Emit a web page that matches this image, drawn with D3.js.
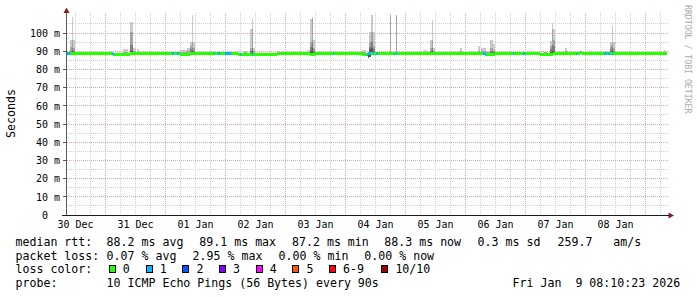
<!DOCTYPE html>
<html>
<head>
<meta charset="utf-8">
<script src="https://cdn.jsdelivr.net/npm/d3@7"></script>
<style>
	html, body { margin: 0; padding: 0; background: #fff; }
	svg { display: block; font-family: "DejaVu Sans Mono", monospace; }
	text { white-space: pre; }
</style>
</head>
<body>
<svg id="chart" width="697" height="297"></svg>
<script>
// graph window (UTC)
var windowStart = '2025-12-29 20:30';
var windowEnd = '2026-01-08 20:30';

// median rtt in ms: [from, to, value]
var medianRtt = [
	['2025-12-29 20:30', '2025-12-30 14:54', 88.5],
	['2025-12-30 14:54', '2025-12-30 21:42', 88.0],
	['2025-12-30 21:42', '2025-12-31 17:42', 88.5],
	['2025-12-31 17:42', '2025-12-31 21:42', 88.0],
	['2025-12-31 21:42', '2026-01-01 16:54', 88.5],
	['2026-01-01 16:54', '2026-01-02 08:30', 88.0],
	['2026-01-02 08:30', '2026-01-02 21:36', 88.5],
	['2026-01-02 21:36', '2026-01-02 23:48', 88.0],
	['2026-01-02 23:48', '2026-01-03 18:30', 88.5],
	['2026-01-03 18:30', '2026-01-03 20:54', 88.0],
	['2026-01-03 20:54', '2026-01-05 19:42', 88.5],
	['2026-01-05 19:42', '2026-01-05 23:42', 88.0],
	['2026-01-05 23:42', '2026-01-06 17:42', 88.5],
	['2026-01-06 17:42', '2026-01-06 22:54', 88.0],
	['2026-01-06 22:54', '2026-01-07 09:42', 88.5],
	['2026-01-07 09:42', '2026-01-07 10:30', 89.2],
	['2026-01-07 10:30', '2026-01-08 20:30', 88.5]
];

// pings lost out of 10: [from, to, lost]; no loss outside these runs
var lossRuns = [
	['2025-12-29 20:30', '2025-12-29 21:42', 1],
	['2025-12-30 14:30', '2025-12-30 15:24', 1],
	['2025-12-31 14:30', '2025-12-31 15:24', 1],
	['2025-12-31 16:30', '2025-12-31 17:24', 1],
	['2026-01-01 07:12', '2026-01-01 07:48', 1],
	['2026-01-01 08:54', '2026-01-01 09:48', 1],
	['2026-01-01 11:48', '2026-01-01 14:06', 1],
	['2026-01-01 17:42', '2026-01-01 18:06', 1],
	['2026-01-01 22:24', '2026-01-01 23:00', 1],
	['2026-01-03 06:54', '2026-01-03 07:18', 1],
	['2026-01-03 20:30', '2026-01-03 21:54', 1],
	['2026-01-03 22:42', '2026-01-03 23:18', 1],
	['2026-01-03 23:54', '2026-01-04 00:54', 1],
	['2026-01-04 07:06', '2026-01-04 07:30', 1],
	['2026-01-04 08:06', '2026-01-04 08:30', 1],
	['2026-01-05 18:54', '2026-01-05 19:54', 1],
	['2026-01-06 06:54', '2026-01-06 07:18', 1],
	['2026-01-06 10:54', '2026-01-06 11:48', 1],
	['2026-01-07 07:54', '2026-01-07 08:30', 1],
	['2026-01-07 19:18', '2026-01-07 20:18', 1],
	['2026-01-07 20:48', '2026-01-07 21:36', 1],
	['2026-01-07 22:24', '2026-01-07 22:48', 1]
];

// smoke: [from, to, lowest ping, top of band 1..4 (outer to inner)] in ms
var smoke = [
	['2025-12-29 21:42', '2025-12-29 22:30', 87.8, 96, 92.5, 90, 89],
	['2025-12-29 22:30', '2025-12-29 22:54', 87.8, 109, 96, 92, 90],
	['2025-12-29 22:54', '2025-12-29 23:42', 87.8, 96, 92, 90, 89],
	['2025-12-30 18:54', '2025-12-30 20:54', 87.8, 91, 89.5, 89, 88.8],
	['2025-12-30 21:42', '2025-12-30 22:54', 87.8, 106, 100.7, 93.4, 90],
	['2025-12-30 22:54', '2025-12-30 23:54', 87.8, 92, 90, 89, 88.8],
	['2025-12-31 00:30', '2025-12-31 01:18', 87.8, 91, 89.5, 89, 88.8],
	['2025-12-31 17:42', '2025-12-31 20:30', 87.8, 90.7, 89.5, 89, 88.8],
	['2025-12-31 20:30', '2025-12-31 21:42', 87.8, 92, 90, 89, 88.8],
	['2025-12-31 21:42', '2025-12-31 22:18', 87.8, 95, 93, 91, 89.5],
	['2025-12-31 22:18', '2025-12-31 22:42', 87.8, 110, 95, 92, 90],
	['2025-12-31 22:42', '2025-12-31 23:42', 87.8, 95, 92, 90, 89],
	['2026-01-01 19:12', '2026-01-01 20:36', 87.8, 90.1, 89.3, 89, 88.8],
	['2026-01-01 21:36', '2026-01-01 22:24', 87.8, 102, 92, 90, 89],
	['2026-01-01 22:24', '2026-01-01 22:54', 87.8, 108, 102, 92, 90],
	['2026-01-01 22:54', '2026-01-01 23:48', 87.8, 92, 90, 89, 88.8],
	['2026-01-02 20:30', '2026-01-02 21:36', 87.8, 90.7, 89.5, 89, 88.8],
	['2026-01-02 21:36', '2026-01-02 22:24', 87.8, 107.7, 95, 92.5, 90],
	['2026-01-02 22:24', '2026-01-02 22:54', 87.8, 109, 107.7, 95, 92],
	['2026-01-02 22:54', '2026-01-02 23:48', 87.8, 96, 92, 90, 89],
	['2026-01-03 18:30', '2026-01-03 20:06', 87.8, 90.7, 89.5, 89, 88.8],
	['2026-01-03 20:54', '2026-01-03 21:24', 86.4, 88.8, 88.6, 88.5, 88.4],
	['2026-01-03 21:24', '2026-01-03 22:12', 87.0, 100.4, 95.2, 92.5, 91],
	['2026-01-03 22:12', '2026-01-03 22:54', 87.8, 110, 100.4, 95, 92],
	['2026-01-03 22:54', '2026-01-03 23:48', 87.8, 100.4, 93, 91, 89.5],
	['2026-01-04 05:42', '2026-01-04 06:06', 87.8, 110, 110, 88.8, 88.8],
	['2026-01-04 08:06', '2026-01-04 08:30', 87.8, 110, 110, 88.8, 88.8],
	['2026-01-04 18:54', '2026-01-04 20:30', 87.8, 90.7, 89.5, 89, 88.8],
	['2026-01-04 21:36', '2026-01-04 22:24', 87.8, 96.2, 92, 90, 89],
	['2026-01-04 22:24', '2026-01-04 22:48', 87.8, 107.1, 96.2, 92, 90],
	['2026-01-04 22:48', '2026-01-04 23:48', 87.8, 91.6, 90, 89, 88.8],
	['2026-01-05 09:36', '2026-01-05 10:30', 87.8, 92, 90, 89, 88.8],
	['2026-01-05 16:54', '2026-01-05 17:48', 87.8, 93, 90, 89, 88.8],
	['2026-01-05 18:06', '2026-01-05 20:06', 87.8, 91.6, 90, 89, 88.8],
	['2026-01-05 20:06', '2026-01-05 21:36', 87.8, 90.1, 89.5, 89, 88.8],
	['2026-01-05 21:36', '2026-01-05 22:54', 87.8, 96.2, 91.6, 90, 89],
	['2026-01-05 22:54', '2026-01-05 23:36', 87.8, 93.8, 90.5, 89.5, 89],
	['2026-01-06 19:12', '2026-01-06 20:30', 87.8, 89.8, 89.3, 89, 88.8],
	['2026-01-06 21:36', '2026-01-06 22:24', 87.8, 95.6, 93, 91, 89.5],
	['2026-01-06 22:24', '2026-01-06 22:54', 87.5, 105.3, 102.2, 93.4, 90],
	['2026-01-06 22:54', '2026-01-06 23:48', 87.8, 102.2, 96, 93, 90],
	['2026-01-07 03:36', '2026-01-07 04:30', 87.8, 92, 90, 89, 88.8],
	['2026-01-07 21:36', '2026-01-07 22:30', 87.8, 95.2, 93, 91, 89.5],
	['2026-01-07 22:30', '2026-01-07 23:00', 87.8, 104, 95.2, 92.5, 90],
	['2026-01-07 23:00', '2026-01-07 23:48', 87.8, 95.2, 92, 90, 89],
	['2026-01-08 19:12', '2026-01-08 20:06', 87.8, 90.7, 89.5, 89, 88.8]
];

// y grid in ms
var yMajor = [0, 10, 20, 30, 40, 50, 60, 70, 80, 90, 100];
var yMinor = [5, 15, 25, 35, 45, 55, 65, 75, 85, 95, 105];

// legend texts
var rttStats = ['88.2 ms avg', '89.1 ms max', '87.2 ms min', '88.3 ms now', '0.3 ms sd', '259.7', 'am/s'];
var lossStats = ['0.07 % avg', '2.95 % max', '0.00 % min', '0.00 % now'];
var lossLabels = ['0', '1', '2', '3', '4', '5', '6-9', '10/10'];
var lossColors = ['#26ff00', '#00b8ff', '#0059ff', '#7e00ff', '#ff00ff', '#ff5500', '#ff0000', '#a10000'];
var probeText = '10 ICMP Echo Pings (56 Bytes) every 90s';
var stampText = 'Fri Jan  9 08:10:23 2026';

var parseT = d3.utcParse('%Y-%m-%d %H:%M');
var svg = d3.select('#chart');

var x = d3.scaleUtc()
	.domain([parseT(windowStart), parseT(windowEnd)])
	.range([67, 667]);
var y = d3.scaleLinear()
	.domain([0, 111])
	.range([215, 13]);

function px(v) { return Math.floor(v) + 0.5; }

function lossColor(n) {
	if (n >= 10) return lossColors[7];
	if (n >= 6) return lossColors[6];
	return lossColors[n];
}

// grid
var grid = svg.append('g').attr('shape-rendering', 'crispEdges');
var sixHours = x.ticks(d3.utcHour.every(6));

function hLines(vals, color) {
	grid.selectAll(null)
		.data(vals.filter(function(v) { return v > 0; }))
		.enter()
		.append('line')
		.attr('x1', 67).attr('x2', 668)
		.attr('y1', function(d) { return px(y(d)); })
		.attr('y2', function(d) { return px(y(d)); })
		.attr('stroke', color)
		.attr('stroke-dasharray', '1,1');
}
function vLines(vals, color) {
	grid.selectAll(null)
		.data(vals)
		.enter()
		.append('line')
		.attr('x1', function(d) { return px(x(d)); })
		.attr('x2', function(d) { return px(x(d)); })
		.attr('y1', 13).attr('y2', 215)
		.attr('stroke', color)
		.attr('stroke-dasharray', '1,1');
}
hLines(yMinor, '#cfcfcf');
vLines(sixHours.filter(function(d) { return d.getUTCHours() !== 12; }), '#cfcfcf');
hLines(yMajor, '#e2a6a6');
vLines(sixHours.filter(function(d) { return d.getUTCHours() === 12; }), '#e2a6a6');

// smoke
var smokeShades = ['#cacaca', '#a4a4a4', '#7e7e7e', '#585858'];
var bands = [];
smoke.forEach(function(c) {
	for (var i = 0; i < 4; i++) {
		bands.push({t0: parseT(c[0]), t1: parseT(c[1]), lo: c[2], hi: c[3 + i], level: i});
	}
});
svg.append('g')
	.attr('shape-rendering', 'crispEdges')
	.selectAll('rect')
	.data(bands)
	.enter()
	.append('rect')
	.attr('x', function(d) { return x(d.t0); })
	.attr('width', function(d) { return Math.max(1, x(d.t1) - x(d.t0)); })
	.attr('y', function(d) { return y(d.hi); })
	.attr('height', function(d) { return y(d.lo) - y(d.hi); })
	.attr('fill', function(d) { return smokeShades[d.level]; });

// median line, coloured by loss
var cuts = [];
medianRtt.forEach(function(s) { cuts.push(+parseT(s[0]), +parseT(s[1])); });
lossRuns.forEach(function(s) { cuts.push(+parseT(s[0]), +parseT(s[1])); });
cuts = Array.from(new Set(cuts)).sort(function(a, b) { return a - b; });

var pieces = [];
for (var i = 0; i < cuts.length - 1; i++) {
	var mid = (cuts[i] + cuts[i + 1]) / 2;
	var m = medianRtt.find(function(s) { return +parseT(s[0]) <= mid && mid < +parseT(s[1]); });
	var l = lossRuns.find(function(s) { return +parseT(s[0]) <= mid && mid < +parseT(s[1]); });
	if (!m) continue;
	pieces.push({t0: new Date(cuts[i]), t1: new Date(cuts[i + 1]), rtt: m[2], lost: l ? l[2] : 0});
}
svg.append('g')
	.attr('shape-rendering', 'crispEdges')
	.selectAll('rect')
	.data(pieces)
	.enter()
	.append('rect')
	.attr('x', function(d) { return x(d.t0); })
	.attr('width', function(d) { return x(d.t1) - x(d.t0); })
	.attr('y', function(d) { return y(d.rtt) - 1.5; })
	.attr('height', 3)
	.attr('fill', function(d) { return lossColor(d.lost); });

// axes
var axes = svg.append('g').attr('shape-rendering', 'crispEdges');
axes.append('line')
	.attr('x1', 66.5).attr('x2', 66.5).attr('y1', 10).attr('y2', 215)
	.attr('stroke', '#5a5a5a');
axes.selectAll(null)
	.data(yMajor.filter(function(v) { return v > 0; }))
	.enter()
	.append('line')
	.attr('x1', 63).attr('x2', 66)
	.attr('y1', function(d) { return px(y(d)); })
	.attr('y2', function(d) { return px(y(d)); })
	.attr('stroke', '#5a5a5a');
axes.append('line')
	.attr('x1', 62).attr('x2', 669).attr('y1', 215.5).attr('y2', 215.5)
	.attr('stroke', '#1a1a1a');

svg.append('path')
	.attr('d', 'M63.5,13 L66.5,7.5 L69.5,13 Z')
	.attr('fill', '#7f1f1f');
svg.append('path')
	.attr('d', 'M668.5,212.5 L674,215.5 L668.5,218.5 Z')
	.attr('fill', '#7f1f1f');

// tick labels
svg.append('g')
	.selectAll('text')
	.data(yMajor)
	.enter()
	.append('text')
	.attr('x', 60)
	.attr('y', function(d) { return y(d) + 3.7; })
	.attr('text-anchor', 'end')
	.attr('font-size', 10)
	.text(function(d) { return d === 0 ? '0  ' : d + ' m'; });

var fmtDay = d3.utcFormat('%d %b');
svg.append('g')
	.selectAll('text')
	.data(x.ticks(d3.utcDay.every(1)))
	.enter()
	.append('text')
	.attr('x', function(d) { return px(x(d)); })
	.attr('y', 228.2)
	.attr('text-anchor', 'middle')
	.attr('font-size', 10)
	.text(fmtDay);

svg.append('text')
	.attr('transform', 'translate(15,113.5) rotate(-90)')
	.attr('text-anchor', 'middle')
	.attr('font-size', 11.6)
	.text('Seconds');

svg.append('text')
	.attr('transform', 'translate(684.5,5) rotate(90)')
	.attr('font-size', 8.2)
	.attr('fill', '#aaaaaa')
	.text('RRDTOOL / TOBI OETIKER');

// legend
var legend = svg.append('g').attr('font-size', 11.6);
var rows = [246, 259.7, 273.4, 287.1];

function put(xx, row, str) {
	legend.append('text').attr('x', xx).attr('y', rows[row]).text(str);
}

put(15.5, 0, 'median rtt:');
[106.6, 199.3, 292, 384.3, 477.6, 557.6, 613.3].forEach(function(xx, i) { put(xx, 0, rttStats[i]); });

put(15.5, 1, 'packet loss:');
[106.6, 192.6, 278.6, 364.3].forEach(function(xx, i) { put(xx, 1, lossStats[i]); });

put(15.5, 2, 'loss color:');
var boxX = [109, 146, 182.7, 219.3, 256, 292.7, 329.3, 381.7];
boxX.forEach(function(bx, i) {
	legend.append('rect')
		.attr('x', px(bx)).attr('y', 265.5)
		.attr('width', 6).attr('height', 7)
		.attr('fill', lossColors[i])
		.attr('stroke', '#000')
		.attr('shape-rendering', 'crispEdges');
	put(bx + 13.7, 2, lossLabels[i]);
});

put(15.5, 3, 'probe:');
put(106.6, 3, probeText);
put(512.6, 3, stampText);
</script>
</body>
</html>
